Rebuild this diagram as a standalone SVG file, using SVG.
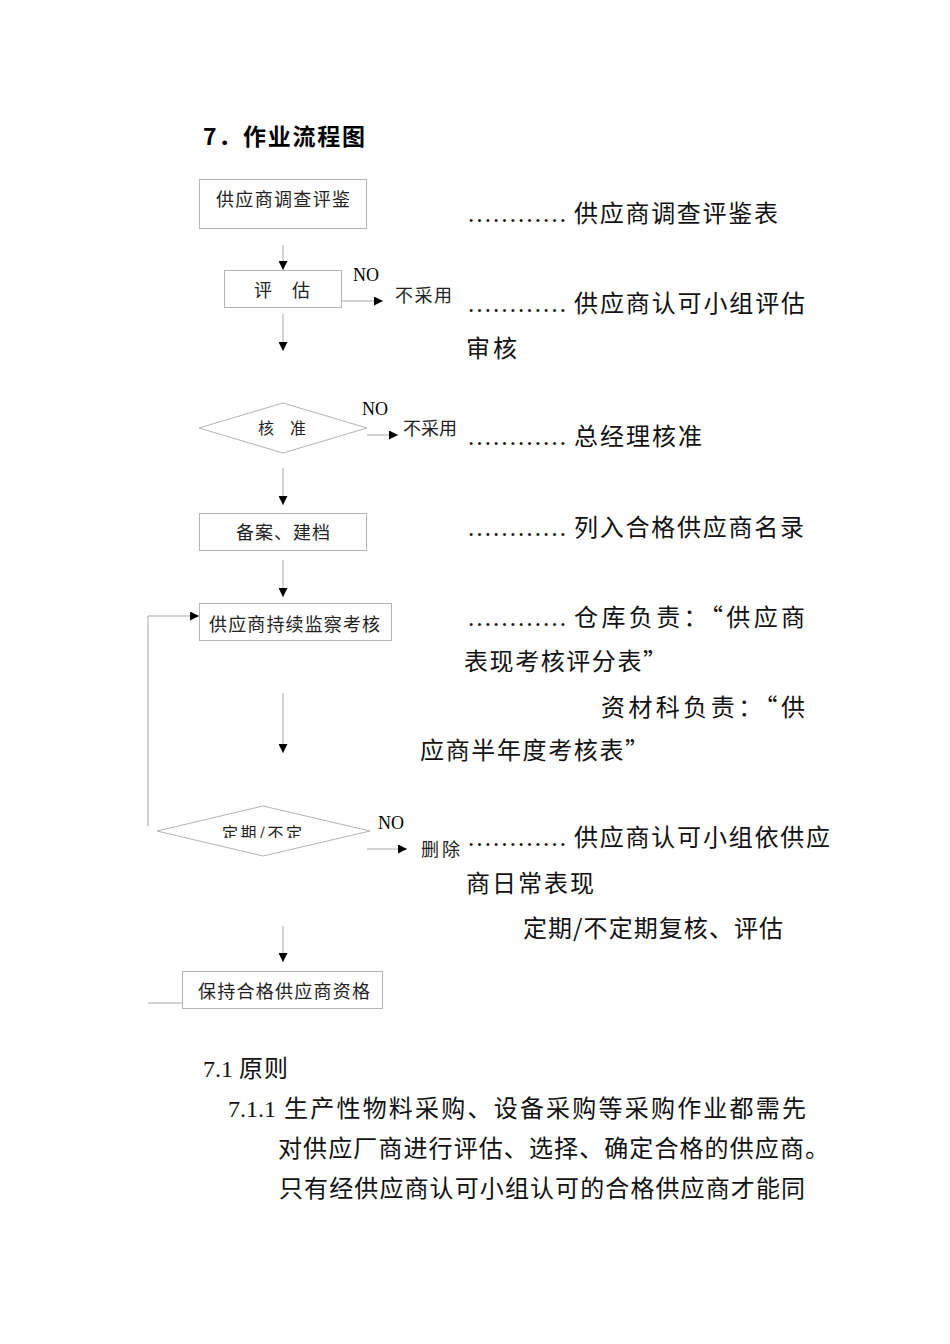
<svg xmlns="http://www.w3.org/2000/svg" width="950" height="1344" viewBox="0 0 950 1344">
<style>
.bg{fill:#fff}
.box{fill:#fff;stroke:#b4b4b4;stroke-width:1}
.dia{fill:#fff;stroke:#b4b4b4;stroke-width:1}
.ln{fill:none;stroke:#a8a8a8;stroke-width:1}
.bt{font-family:"Noto Sans CJK SC","Liberation Sans",sans-serif;font-size:18px;fill:#222}
.dt{font-family:"Noto Sans CJK SC","Liberation Sans",sans-serif;font-size:16px;fill:#222}
.no{font-family:"Liberation Serif",serif;font-size:18px;fill:#000}
.sm{font-family:"Noto Sans CJK SC","Liberation Sans",sans-serif;font-size:18px;fill:#222}
.rt{font-family:"Noto Sans CJK SC","Liberation Sans",sans-serif;font-size:24px;fill:#111}
.dots{font-family:"Liberation Serif",serif;font-size:25px;fill:#111}
.num{font-family:"Liberation Serif",serif;font-size:24px;fill:#111}
.h{font-family:"Noto Sans CJK SC","Liberation Sans",sans-serif;font-size:23px;font-weight:bold;fill:#000}
</style>
<defs>
<marker id="ah" viewBox="0 0 10 10" refX="10" refY="5" markerWidth="9" markerHeight="9" markerUnits="userSpaceOnUse" orient="auto"><path d="M0,0L10,5L0,10z" fill="#000"/></marker>
<clipPath id="clipd"><rect x="150" y="800" width="230" height="38"/></clipPath>
</defs>
<rect class="bg" x="0" y="0" width="950" height="1344"/>

<text class="h" x="203" y="145" textLength="162">7．作业流程图</text>

<g id="connectors">
<line class="ln" x1="283" y1="245" x2="283" y2="270" marker-end="url(#ah)"/>
<line class="ln" x1="342" y1="301" x2="383" y2="301" marker-end="url(#ah)"/>
<line class="ln" x1="283" y1="314" x2="283" y2="351" marker-end="url(#ah)"/>
<line class="ln" x1="367" y1="435" x2="398" y2="435" marker-end="url(#ah)"/>
<line class="ln" x1="283" y1="468" x2="283" y2="505" marker-end="url(#ah)"/>
<line class="ln" x1="283" y1="560" x2="283" y2="597" marker-end="url(#ah)"/>
<polyline class="ln" points="148,826 148,616 199,616" marker-end="url(#ah)"/>
<line class="ln" x1="283" y1="693" x2="283" y2="753" marker-end="url(#ah)"/>
<line class="ln" x1="367" y1="849" x2="407" y2="849" marker-end="url(#ah)"/>
<line class="ln" x1="283" y1="926" x2="283" y2="962" marker-end="url(#ah)"/>
<line class="ln" x1="148" y1="1003" x2="183" y2="1003"/>
<text class="no" x="353" y="281">NO</text>
<text class="sm" x="395" y="302" textLength="57">不采用</text>
<text class="no" x="362" y="415">NO</text>
<text class="sm" x="403" y="435" textLength="54">不采用</text>
<text class="no" x="378" y="829">NO</text>
<text class="sm" x="421" y="856" textLength="39">删除</text>
</g>

<g id="n1">
<rect class="box" x="199.5" y="179.5" width="167" height="49"/>
<text class="bt" x="216" y="206" textLength="134">供应商调查评鉴</text>
</g>
<g id="n2">
<rect class="box" x="224.5" y="270.5" width="117" height="37"/>
<text class="bt"><tspan x="254" y="297">评</tspan><tspan x="292" y="297">估</tspan></text>
</g>
<g id="n3">
<polygon class="dia" points="199,428 283,403 367,428 283,453"/>
<text class="dt"><tspan x="258" y="434">核</tspan><tspan x="290" y="434">准</tspan></text>
</g>
<g id="n4">
<rect class="box" x="199.5" y="513.5" width="167" height="37"/>
<text class="bt" x="236" y="539" textLength="94">备案、建档</text>
</g>
<g id="n5">
<rect class="box" x="199.5" y="603.5" width="192" height="37"/>
<text class="bt" x="209" y="631" textLength="171">供应商持续监察考核</text>
</g>
<g id="n6">
<polygon class="dia" points="157,831 263,806 370,831 263,856"/>
<text class="dt" x="222" y="839" textLength="80" clip-path="url(#clipd)">定期/不定</text>
</g>
<g id="n7">
<rect class="box" x="182.5" y="971.5" width="200" height="37"/>
<text class="bt" x="198" y="998" textLength="172">保持合格供应商资格</text>
</g>

<g id="notes">
<text class="dots" x="467" y="221.5" textLength="100">…………</text>
<text class="rt" x="574" y="221.5" textLength="204">供应商调查评鉴表</text>
<text class="dots" x="467" y="311.5" textLength="100">…………</text>
<text class="rt" x="574" y="311.5" textLength="231">供应商认可小组评估</text>
<text class="rt" x="466" y="357" textLength="51">审核</text>
<text class="dots" x="467" y="445" textLength="100">…………</text>
<text class="rt" x="574" y="445" textLength="128">总经理核准</text>
<text class="dots" x="467" y="536" textLength="100">…………</text>
<text class="rt" x="574" y="536" textLength="230">列入合格供应商名录</text>
<text class="dots" x="467" y="626" textLength="100">…………</text>
<text class="rt" x="574" y="626" textLength="231">仓库负责：“供应商</text>
<text class="rt" x="464" y="670" textLength="203">表现考核评分表”</text>
<text class="rt" x="601" y="716" textLength="204">资材科负责：“供</text>
<text class="rt" x="420" y="759" textLength="229">应商半年度考核表”</text>
<text class="dots" x="467" y="846" textLength="100">…………</text>
<text class="rt" x="574" y="846" textLength="256">供应商认可小组依供应</text>
<text class="rt" x="466" y="892" textLength="128">商日常表现</text>
<text class="rt" x="523" y="937" textLength="260">定期/不定期复核、评估</text>
</g>

<g id="body">
<text class="num" x="203" y="1077">7.1</text>
<text class="rt" x="239" y="1077" textLength="49">原则</text>
<text class="num" x="228" y="1117">7.1.1</text>
<text class="rt" x="284" y="1117" textLength="522">生产性物料采购、设备采购等采购作业都需先</text>
<text class="rt" x="278" y="1157" textLength="551">对供应厂商进行评估、选择、确定合格的供应商。</text>
<text class="rt" x="279" y="1197" textLength="526">只有经供应商认可小组认可的合格供应商才能同</text>
</g>
</svg>
